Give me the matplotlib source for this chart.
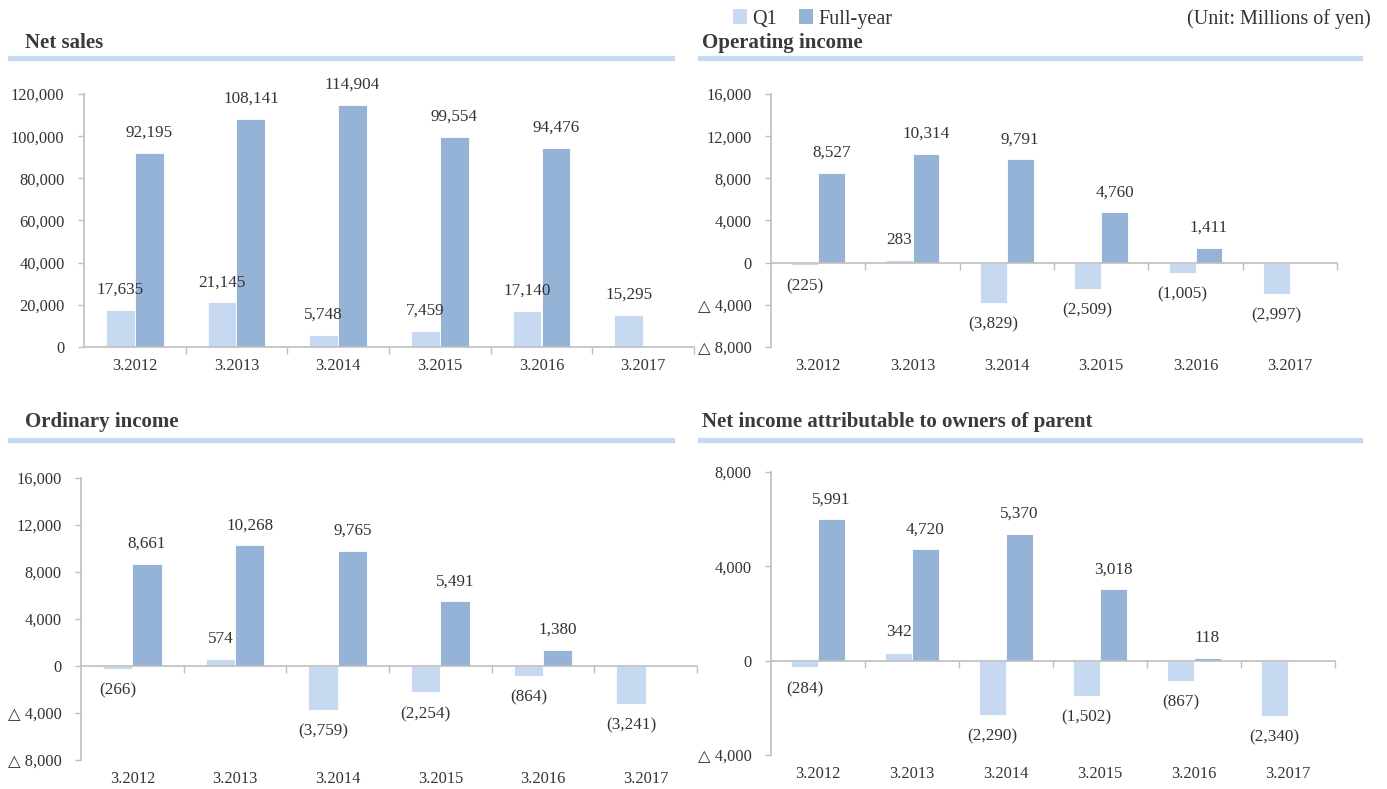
"""Q1 vs full-year results, four bar panels."""

import numpy as np
import matplotlib
matplotlib.use("Agg")
import matplotlib.pyplot as plt
from matplotlib.lines import Line2D
from matplotlib.patches import Patch

plt.rcParams["font.family"] = ["Liberation Serif", "DejaVu Sans"]

YEARS = ["3.2012", "3.2013", "3.2014", "3.2015", "3.2016", "3.2017"]

NET_SALES_Q1 = [17635, 21145, 5748, 7459, 17140, 15295]
NET_SALES_FY = [92195, 108141, 114904, 99554, 94476, np.nan]

OP_INCOME_Q1 = [-225, 283, -3829, -2509, -1005, -2997]
OP_INCOME_FY = [8527, 10314, 9791, 4760, 1411, np.nan]

ORD_INCOME_Q1 = [-266, 574, -3759, -2254, -864, -3241]
ORD_INCOME_FY = [8661, 10268, 9765, 5491, 1380, np.nan]

NET_INCOME_Q1 = [-284, 342, -2290, -1502, -867, -2340]
NET_INCOME_FY = [5991, 4720, 5370, 3018, 118, np.nan]

C_Q1 = "#C6D9F1"
C_FY = "#95B3D7"
C_AXIS = "#BFBFBF"
C_TEXT = "#333333"

W, H = 1387, 789


def px_rect(left, top, right, bottom):
    return [left / W, 1 - bottom / H, (right - left) / W, (bottom - top) / H]


def fmt_tick(v):
    if v < 0:
        return "\u25b3 {:,}".format(int(-v))
    return "{:,}".format(int(v))


def fmt_label(v):
    if v < 0:
        return "({:,})".format(int(-v))
    return "{:,}".format(int(v))


def panel(fig, rect, q1, fy, ymin, ymax, step):
    ax = fig.add_axes(rect)
    x = np.arange(len(YEARS))
    bw = 0.285
    ax.bar(x - bw / 2, q1, bw, color=C_Q1, edgecolor="white", linewidth=0.6, zorder=2)
    ax.bar(x + bw / 2, fy, bw, color=C_FY, edgecolor="white", linewidth=0.6, zorder=2)

    ax.set_xlim(-0.5, len(YEARS) - 0.5)
    ax.set_ylim(ymin, ymax)

    for s in ("top", "right"):
        ax.spines[s].set_visible(False)
    ax.spines["left"].set_color(C_AXIS)
    ax.spines["left"].set_linewidth(1.2)
    ax.spines["bottom"].set_color(C_AXIS)
    ax.spines["bottom"].set_linewidth(1.2)
    ax.spines["bottom"].set_position(("data", 0))

    yt = np.arange(ymin, ymax + 1, step)
    ax.set_yticks(yt)
    ax.set_yticklabels([fmt_tick(v) for v in yt])
    ax.tick_params(axis="y", colors=C_AXIS, labelcolor=C_TEXT, length=4,
                   width=1.0, labelsize=11.8, pad=10)

    ax.set_xticks(np.arange(len(YEARS)) + 0.5)
    ax.set_xticklabels([])
    ax.tick_params(axis="x", colors=C_AXIS, length=5, width=1.0)

    for i, yr in enumerate(YEARS):
        ax.annotate(yr, xy=(i, 0), xycoords=("data", "axes fraction"),
                    xytext=(0, -13.5), textcoords="offset points",
                    ha="center", va="center", fontsize=11.8, color=C_TEXT)

    for xs, vals in ((x - bw / 2, q1), (x + bw / 2, fy)):
        for xi, v in zip(xs, vals):
            if np.isnan(v):
                continue
            off = 14.5 if v >= 0 else -15.5
            ax.annotate(fmt_label(v), xy=(xi, v), xytext=(0, off),
                        textcoords="offset points", ha="center", va="center",
                        fontsize=12.3, color=C_TEXT, zorder=3)
    return ax


fig = plt.figure(figsize=(W / 100, H / 100), dpi=100)

panel(fig, px_rect(84, 94, 694, 347), NET_SALES_Q1, NET_SALES_FY, 0, 120000, 20000)
panel(fig, px_rect(771, 94, 1337, 347), OP_INCOME_Q1, OP_INCOME_FY, -8000, 16000, 4000)
panel(fig, px_rect(81, 478, 697, 760), ORD_INCOME_Q1, ORD_INCOME_FY, -8000, 16000, 4000)
panel(fig, px_rect(771, 472, 1335, 755), NET_INCOME_Q1, NET_INCOME_FY, -4000, 8000, 4000)

# panel titles + separator lines
titles = [
    (25, 43, "Net sales"),
    (702, 43, "Operating income"),
    (25, 422, "Ordinary income"),
    (702, 422, "Net income attributable to owners of parent"),
]
for tx, ty, t in titles:
    fig.text(tx / W, 1 - ty / H, t, ha="left", va="center", fontsize=15,
             fontweight="bold", color="#3A3A3A")

for y in (58, 440):
    for x0, x1 in ((10, 672), (700, 1360)):
        fig.add_artist(Line2D([x0 / W, x1 / W], [1 - y / H, 1 - y / H],
                              transform=fig.transFigure, color=C_Q1, lw=3.8))

# legend + unit
handles = [Patch(facecolor=C_Q1, edgecolor="none", label="Q1"),
           Patch(facecolor=C_FY, edgecolor="none", label="Full-year")]
fig.legend(handles=handles, loc="center", bbox_to_anchor=(813 / W, 1 - 19 / H),
           ncol=2, frameon=False, fontsize=14.5, handlelength=0.65,
           handleheight=0.7, handletextpad=0.3, columnspacing=1.1,
           labelcolor=C_TEXT)
fig.text(1371 / W, 1 - 19 / H, "(Unit: Millions of yen)", ha="right",
         va="center", fontsize=14.5, color=C_TEXT)

fig.savefig("out.png", dpi=100)
